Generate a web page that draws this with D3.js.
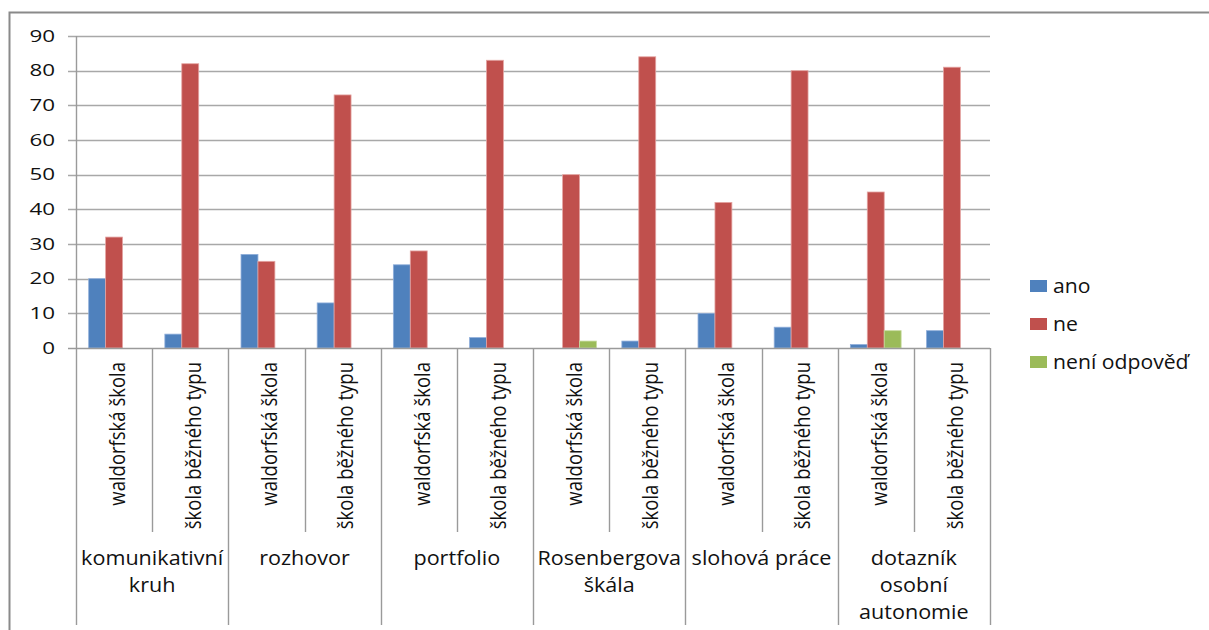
<!DOCTYPE html>
<html>
<head>
<meta charset="utf-8">
<script src="https://cdn.jsdelivr.net/npm/d3@7"></script>
<style>
  html, body { margin: 0; padding: 0; background: #fff; }
  svg text { font-family: "Open Sans", "Noto Sans", sans-serif; fill: #111; }
</style>
</head>
<body>
<svg id="chart" width="1209" height="630"></svg>
<script>
// Survey results: assessment methods, by school type
const groups = ["komunikativní kruh", "rozhovor", "portfolio", "Rosenbergova škála", "slohová práce", "dotazník osobní autonomie"];
const groupLines = [["komunikativní", "kruh"], ["rozhovor"], ["portfolio"], ["Rosenbergova", "škála"], ["slohová práce"], ["dotazník", "osobní", "autonomie"]];
const schools = ["waldorfská škola", "škola běžného typu"];
const seriesNames = ["ano", "ne", "není odpověď"];
const ano = [20, 4, 27, 13, 24, 3, 0, 2, 10, 6, 1, 5];
const ne = [32, 82, 25, 73, 28, 83, 50, 84, 42, 80, 45, 81];
const neniOdpoved = [0, 0, 0, 0, 0, 0, 2, 0, 0, 0, 5, 0];
const yTicks = [0, 10, 20, 30, 40, 50, 60, 70, 80, 90];
const colors = ["#4F81BD", "#C0504D", "#9BBB59"];
const edgeColors = ["#8FAEDA", "#E4A4A2", "#C6DA9E"];

const seriesValues = [ano, ne, neniOdpoved];
const slots = [];
groups.forEach((g, gi) => schools.forEach((s, si) => slots.push({ group: gi, school: si, idx: gi * schools.length + si })));

const svg = d3.select("#chart");

// outer chart frame
svg.append("path")
  .attr("d", "M9.5,630 V12.5 H1209")
  .attr("fill", "none").attr("stroke", "#8a8a8a").attr("stroke-width", 2);

const plot = { left: 76, right: 990, top: 36, bottom: 348 };
const x = d3.scaleBand().domain(slots.map(d => d.idx)).range([plot.left, plot.right]).padding(0);
const xs = d3.scaleBand().domain(seriesNames).range([0, x.bandwidth()]).paddingInner(0).paddingOuter(0.75);
const y = d3.scaleLinear().domain([0, 90]).range([plot.bottom, plot.top]);

// horizontal gridlines with outside tick marks
svg.append("g").selectAll("line").data(yTicks.slice(1)).join("line")
  .attr("x1", plot.left - 8).attr("x2", plot.right)
  .attr("y1", d => Math.round(y(d)) + 0.5).attr("y2", d => Math.round(y(d)) + 0.5)
  .attr("stroke", "#a8a8a8").attr("stroke-width", 1.4);

// y axis labels
svg.append("g").selectAll("text").data(yTicks).join("text")
  .attr("transform", d => `translate(55,${y(d)}) scale(1.4,1)`)
  .attr("text-anchor", "end").attr("dy", "0.36em")
  .style("font-size", "16px")
  .text(d => d);

// bars
const barG = svg.append("g");
seriesNames.forEach((name, si) => {
  barG.append("g").selectAll("rect").data(slots).join("rect")
    .attr("x", d => x(d.idx) + xs(name))
    .attr("width", xs.bandwidth())
    .attr("y", d => y(seriesValues[si][d.idx]))
    .attr("height", d => y(0) - y(seriesValues[si][d.idx]))
    .attr("fill", colors[si])
    .attr("stroke", d => seriesValues[si][d.idx] > 0 ? edgeColors[si] : "none")
    .attr("stroke-width", 0.8);
});

// axes lines
const axisColor = "#9a9a9a";
svg.append("line")
  .attr("x1", plot.left - 8).attr("x2", plot.right)
  .attr("y1", plot.bottom + 0.5).attr("y2", plot.bottom + 0.5)
  .attr("stroke", axisColor).attr("stroke-width", 1.4);

// category separators: short ones between schools, long ones between groups
const bounds = d3.range(slots.length + 1);
svg.append("g").selectAll("line").data(bounds).join("line")
  .attr("x1", i => Math.round(plot.left + i * x.step()) + 0.5)
  .attr("x2", i => Math.round(plot.left + i * x.step()) + 0.5)
  .attr("y1", i => i === 0 ? plot.top : plot.bottom)
  .attr("y2", i => i % 2 === 0 ? 625 : 532)
  .attr("stroke", axisColor).attr("stroke-width", 1.4);

// school labels, rotated
svg.append("g").selectAll("text").data(slots).join("text")
  .attr("transform", d => `translate(${x(d.idx) + x.bandwidth() / 2 + 3},362) rotate(-90) scale(1,1.2)`)
  .attr("text-anchor", "end").attr("dy", "0.35em")
  .style("font-size", "18.5px")
  .text(d => schools[d.school]);

// group labels
const gl = svg.append("g").selectAll("text").data(groupLines).join("text")
  .attr("transform", (d, gi) => `translate(${plot.left + (gi * 2 + 1) * x.step()},565) scale(1.08,1)`)
  .attr("text-anchor", "middle")
  .style("font-size", "20px");
gl.selectAll("tspan").data(d => d).join("tspan")
  .attr("x", 0).attr("y", (d, i) => i * 27)
  .text(d => d);

// legend
const lg = svg.append("g").selectAll("g").data(seriesNames).join("g")
  .attr("transform", (d, i) => `translate(1030,${286 + i * 38})`);
lg.append("rect")
  .attr("x", 0).attr("y", -6).attr("width", 17).attr("height", 12)
  .attr("fill", (d, i) => colors[i]);
lg.append("text")
  .attr("transform", "translate(23,0) scale(1.06,1)")
  .attr("dy", "0.35em")
  .style("font-size", "20px")
  .text(d => d);
</script>
</body>
</html>
